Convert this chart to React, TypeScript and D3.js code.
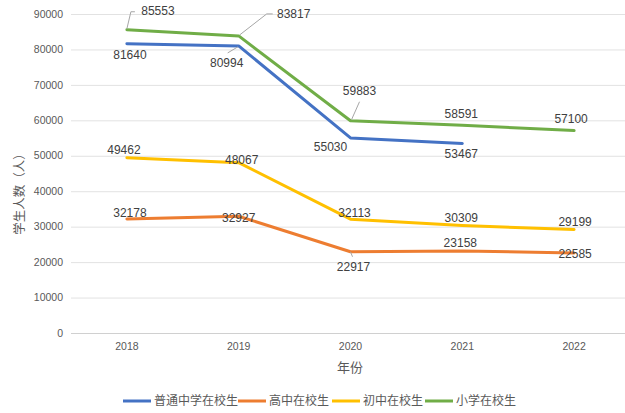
import React, { useEffect, useRef } from 'react'
import { select, scaleBand, scaleLinear, line, range } from 'd3'

const years = ['2018', '2019', '2020', '2021', '2022']
const seriesNames = ['普通中学在校生', '高中在校生', '初中在校生', '小学在校生']
const middleSchool = [81640, 80994, 55030, 53467, null]
const highSchool = [32178, 32927, 22917, 23158, 22585]
const juniorHigh = [49462, 48067, 32113, 30309, 29199]
const primary = [85553, 83817, 59883, 58591, 57100]
const yTicks = [0, 10000, 20000, 30000, 40000, 50000, 60000, 70000, 80000, 90000]

const colors = ['#4472C4', '#ED7D31', '#FFC000', '#70AD47']

// label offsets from each point (dx, dy), picked by eye
const labelOffsets = [
  [[3, 11], [-12, 17], [-20, 9], [-1, 10], [0, 0]],
  [[3, -6], [0, 2], [3, 15], [-2, -8], [1, 1]],
  [[-3, -8], [3, -3], [4, -6], [-1, -8], [1, -8]],
  [[31, -19], [55, -22], [9, -30], [-1, -12], [-3, -12]],
]

// leader lines: [series, index, points relative to the data point]
const leaders = [
  [3, 0, [[0, -1], [4, -18], [8, -18]]],
  [3, 1, [[1, -1], [28, -22], [34, -22]]],
  [3, 2, [[1, -1], [9, -19]]],
  [0, 1, [[-1, 1], [-11, 7]]],
  [1, 2, [[0, 0], [2, 5]]],
]

const font = '"Liberation Sans", "Noto Sans CJK SC", sans-serif'

const App = () => {
  const svgRef = useRef()

  useEffect(() => {
    const svg = select(svgRef.current)
    svg.selectAll('*').remove()

    const data = [middleSchool, highSchool, juniorHigh, primary]

    const xScale = scaleBand().domain(years).range([71, 630])
    const cx = d => xScale(d) + xScale.bandwidth() / 2
    const yScale = scaleLinear().domain([0, 90000]).range([333, 14])

    // grid
    svg.append('g')
      .selectAll('line')
      .data(yTicks)
      .join('line')
      .attr('x1', 71)
      .attr('x2', 630)
      .attr('y1', d => yScale(d) + 0.5)
      .attr('y2', d => yScale(d) + 0.5)
      .attr('stroke', d => (d === 0 ? '#d0d0d0' : '#e2e2e2'))
      .attr('stroke-width', 1)

    svg.append('g')
      .selectAll('text')
      .data(yTicks)
      .join('text')
      .attr('x', 63)
      .attr('y', d => yScale(d))
      .attr('dy', '0.35em')
      .attr('text-anchor', 'end')
      .attr('font-size', 10.5)
      .attr('fill', '#595959')
      .attr('font-family', font)
      .text(d => d)

    svg.append('g')
      .selectAll('text')
      .data(years)
      .join('text')
      .attr('x', d => cx(d))
      .attr('y', 350)
      .attr('text-anchor', 'middle')
      .attr('font-size', 10.5)
      .attr('fill', '#595959')
      .attr('font-family', font)
      .text(d => d)

    svg.append('text')
      .attr('x', 350)
      .attr('y', 372)
      .attr('text-anchor', 'middle')
      .attr('font-size', 13)
      .attr('fill', '#595959')
      .attr('font-family', font)
      .text('年份')

    svg.append('text')
      .attr('transform', 'translate(24,191) rotate(-90)')
      .attr('text-anchor', 'middle')
      .attr('font-size', 12.5)
      .attr('fill', '#595959')
      .attr('font-family', font)
      .text('学生人数（人）')

    const pathGen = line()
      .defined(d => d[1] !== null)
      .x(d => cx(d[0]))
      .y(d => yScale(d[1]))

    data.forEach((values, s) => {
      svg.append('path')
        .datum(years.map((y, i) => [y, values[i]]))
        .attr('d', pathGen)
        .attr('fill', 'none')
        .attr('stroke', colors[s])
        .attr('stroke-width', 3)
        .attr('stroke-linejoin', 'round')
        .attr('stroke-linecap', 'round')
    })

    leaders.forEach(([s, i, pts]) => {
      const px = cx(years[i])
      const py = yScale(data[s][i])
      svg.append('polyline')
        .attr('points', pts.map(p => `${px + p[0]},${py + p[1]}`).join(' '))
        .attr('fill', 'none')
        .attr('stroke', '#a6a6a6')
        .attr('stroke-width', 1)
    })

    data.forEach((values, s) => {
      svg.append('g')
        .selectAll('text')
        .data(range(years.length).filter(i => values[i] !== null))
        .join('text')
        .attr('x', i => cx(years[i]) + labelOffsets[s][i][0])
        .attr('y', i => yScale(values[i]) + labelOffsets[s][i][1])
        .attr('dy', '0.35em')
        .attr('text-anchor', 'middle')
        .attr('font-size', 12)
        .attr('fill', '#404040')
        .attr('font-family', font)
        .text(i => values[i])
    })

    // legend
    const legendX = [123, 238, 332, 425]
    const legend = svg.append('g')
      .selectAll('g')
      .data(seriesNames)
      .join('g')
      .attr('transform', (d, i) => `translate(${legendX[i]},401)`)
    legend.append('line')
      .attr('x1', 0)
      .attr('x2', 28)
      .attr('stroke', (d, i) => colors[i])
      .attr('stroke-width', 3)
    legend.append('text')
      .attr('x', 31)
      .attr('dy', '0.35em')
      .attr('font-size', 12)
      .attr('fill', '#595959')
      .attr('font-family', font)
      .text(d => d)
  }, [])

  return (
    <svg
      ref={svgRef}
      width="625"
      height="413"
      style={{ position: 'absolute', left: 0, top: 0, background: '#fff' }}
    />
  )
}

export default App
